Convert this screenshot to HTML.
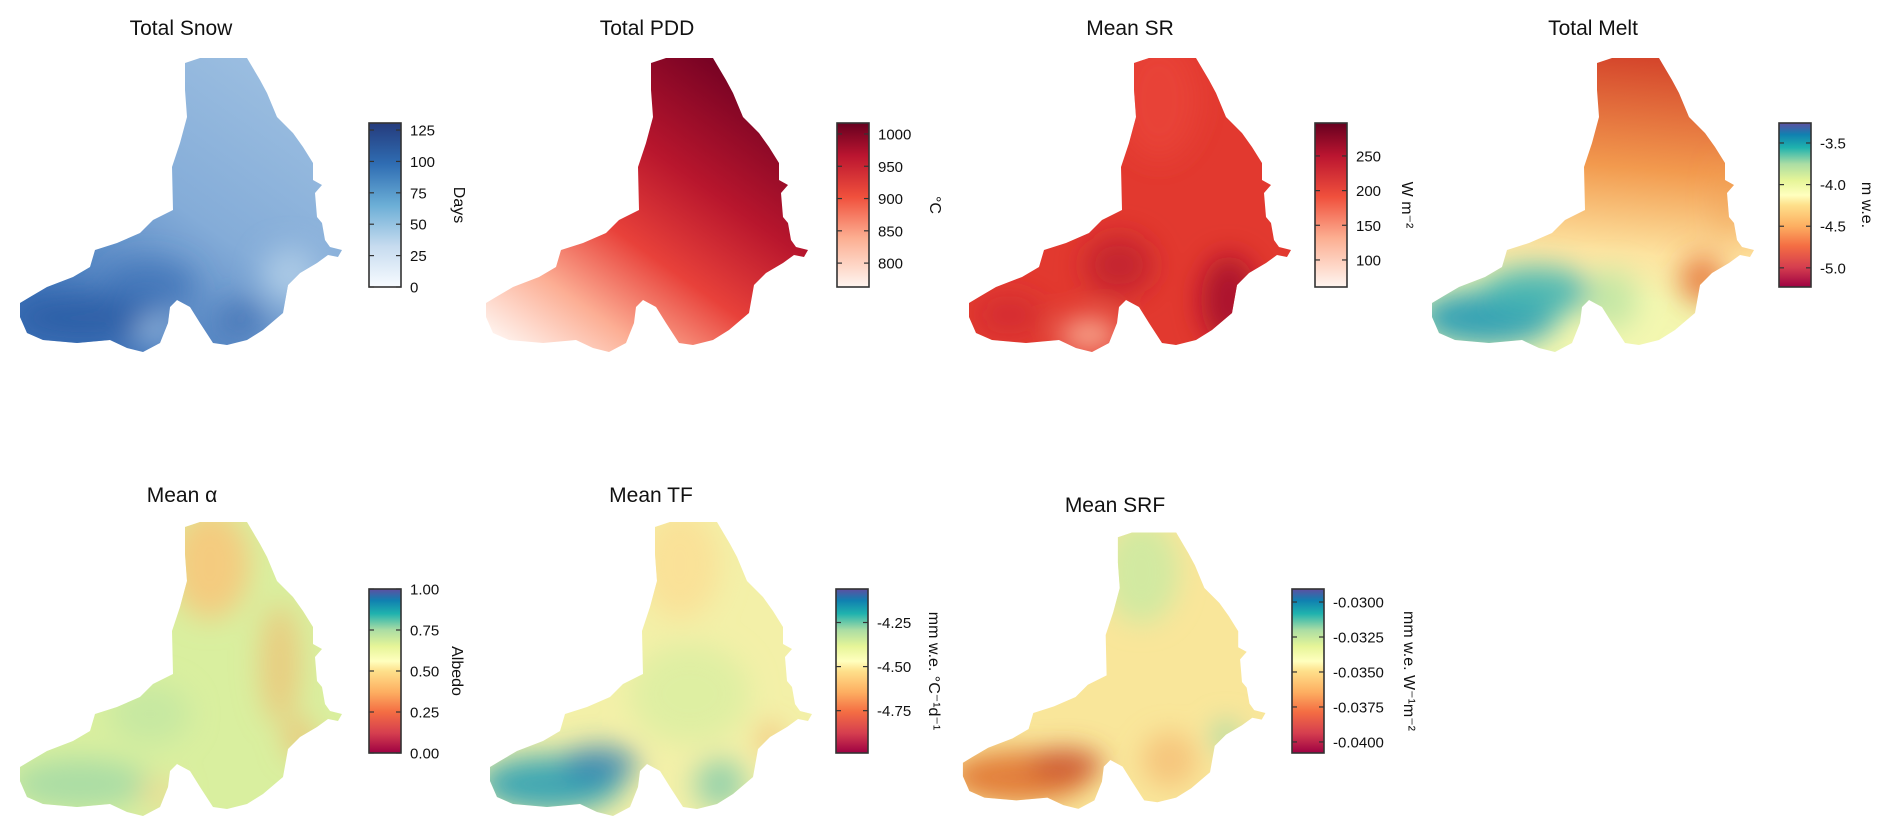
<!DOCTYPE html>
<html><head><meta charset="utf-8"><style>
html,body{margin:0;padding:0;background:#fff;width:1892px;height:837px;overflow:hidden}
svg text{font-family:"Liberation Sans",Arial,sans-serif;fill:#111}
</style></head><body>
<svg id="fig" width="1892" height="837" viewBox="0 0 1892 837" xmlns="http://www.w3.org/2000/svg">
<defs>
<filter id="blur" x="-50%" y="-50%" width="200%" height="200%"><feGaussianBlur stdDeviation="14"/></filter>
<linearGradient id="g-blues" x1="0" y1="1" x2="0" y2="0"><stop offset="0" stop-color="#f7fbff"/><stop offset=".25" stop-color="#c6dbef"/><stop offset=".5" stop-color="#6baed6"/><stop offset=".75" stop-color="#2f6db3"/><stop offset="1" stop-color="#253b7c"/></linearGradient>
<linearGradient id="g-reds" x1="0" y1="1" x2="0" y2="0"><stop offset="0" stop-color="#fff5f0"/><stop offset=".3" stop-color="#fcae91"/><stop offset=".55" stop-color="#f0503c"/><stop offset=".8" stop-color="#bb1530"/><stop offset="1" stop-color="#67001f"/></linearGradient>
<linearGradient id="g-spec" x1="0" y1="1" x2="0" y2="0"><stop offset="0" stop-color="#9e0142"/><stop offset=".12" stop-color="#d53e4f"/><stop offset=".25" stop-color="#f46d43"/><stop offset=".37" stop-color="#fdae61"/><stop offset=".5" stop-color="#fee08b"/><stop offset=".56" stop-color="#ffffbf"/><stop offset=".65" stop-color="#e6f598"/><stop offset=".75" stop-color="#abdda4"/><stop offset=".85" stop-color="#1fb2ae"/><stop offset=".93" stop-color="#1080b0"/><stop offset="1" stop-color="#5e4fa2"/></linearGradient>
<linearGradient id="f-snow" gradientUnits="userSpaceOnUse" x1="260" y1="70" x2="80" y2="330"><stop offset="0" stop-color="#9abde0"/><stop offset=".5" stop-color="#84acd8"/><stop offset="1" stop-color="#3d72b8"/></linearGradient>
<linearGradient id="f-pdd" gradientUnits="userSpaceOnUse" x1="240" y1="60" x2="40" y2="345"><stop offset="0" stop-color="#7a0324"/><stop offset=".3" stop-color="#b8162d"/><stop offset=".55" stop-color="#e8413a"/><stop offset=".78" stop-color="#fcae94"/><stop offset="1" stop-color="#fff3ee"/></linearGradient>
<linearGradient id="f-melt" gradientUnits="userSpaceOnUse" x1="230" y1="60" x2="210" y2="300"><stop offset="0" stop-color="#d5472c"/><stop offset=".45" stop-color="#f29a4e"/><stop offset=".8" stop-color="#fde3a0"/><stop offset="1" stop-color="#f3f7b0"/></linearGradient>
</defs>
<g id="root"></g>
</svg>
<script>
// ----- chart data -----
const titles = ["Total Snow","Total PDD","Mean SR","Total Melt","Mean \u03b1","Mean TF","Mean SRF"];
const units = ["Days","\u00b0C","W  m\u207b\u00b2","m w.e.","Albedo","mm w.e. \u00b0C\u207b\u00b9d\u207b\u00b9","mm w.e. W\u207b\u00b9m\u207b\u00b2"];
const domainMin = [0,763,61,-5.23,0,-4.99,-0.04079];
const domainMax = [130.6,1017,297.5,-3.26,1,-4.06,-0.02907];
const ticksSnow = [0,25,50,75,100,125];
const ticksPDD = [800,850,900,950,1000];
const ticksSR = [100,150,200,250];
const ticksMelt = [-5.0,-4.5,-4.0,-3.5];
const ticksAlb = [0,0.25,0.5,0.75,1.0];
const ticksTF = [-4.75,-4.5,-4.25];
const ticksSRF = [-0.04,-0.0375,-0.035,-0.0325,-0.03];
const tickLabelsSnow = ["0","25","50","75","100","125"];
const tickLabelsPDD = ["800","850","900","950","1000"];
const tickLabelsSR = ["100","150","200","250"];
const tickLabelsMelt = ["-5.0","-4.5","-4.0","-3.5"];
const tickLabelsAlb = ["0.00","0.25","0.50","0.75","1.00"];
const tickLabelsTF = ["-4.75","-4.50","-4.25"];
const tickLabelsSRF = ["-0.0400","-0.0375","-0.0350","-0.0325","-0.0300"];
const allTicks = [ticksSnow,ticksPDD,ticksSR,ticksMelt,ticksAlb,ticksTF,ticksSRF];
const allTickLabels = [tickLabelsSnow,tickLabelsPDD,tickLabelsSR,tickLabelsMelt,tickLabelsAlb,tickLabelsTF,tickLabelsSRF];

// ----- layout -----
const layout = [
 {tx:0,ty:0,sx:1,sy:1,titleX:181,titleY:28,barX:369,barY:123,unitX:460,grad:"g-blues",fill:"url(#f-snow)",key:"snow"},
 {tx:466,ty:0,sx:1,sy:1,titleX:647,titleY:28,barX:837,barY:123,unitX:936,grad:"g-reds",fill:"url(#f-pdd)",key:"pdd"},
 {tx:949,ty:0,sx:1,sy:1,titleX:1130,titleY:28,barX:1315,barY:123,unitX:1408,grad:"g-reds",fill:"#e2392f",key:"sr"},
 {tx:1412,ty:0,sx:1,sy:1,titleX:1593,titleY:28,barX:1779,barY:123,unitX:1868,grad:"g-spec",fill:"url(#f-melt)",key:"melt"},
 {tx:0,ty:464,sx:1,sy:1,titleX:182,titleY:495,barX:369,barY:589,unitX:458,grad:"g-spec",fill:"#d9ef9f",key:"albedo"},
 {tx:470,ty:464,sx:1,sy:1,titleX:651,titleY:495,barX:836,barY:589,unitX:935,grad:"g-spec",fill:"#f3f0a8",key:"tf"},
 {tx:944,ty:478,sx:0.94,sy:0.94,titleX:1115,titleY:505,barX:1292,barY:589,unitX:1410,grad:"g-spec",fill:"#f9e69a",key:"srf"}
];
const barW = 32, barH = 164;
const blobs = {
 snow:[[85,318,75,24,"#2c5ea6",.9],[150,285,45,25,"#3a6fb5",.7],[290,275,28,28,"#b3cfe9",.8],[155,330,20,15,"#a5c4e4",.7],[240,320,25,20,"#3567ad",.6]],
 pdd:[],
 sr:[[280,300,28,45,"#a50f2b",.9],[170,265,35,30,"#b81a2c",.7],[140,335,30,16,"#fcbba1",.9],[60,315,35,20,"#cc2830",.6],[210,100,40,60,"#ec4a3c",.6]],
 melt:[[75,318,70,28,"#2a9db4",.95],[125,292,55,25,"#43b3b2",.9],[200,300,25,30,"#b9e3a3",.8],[290,280,22,25,"#e5652f",.8],[315,200,10,40,"#f0a055",.5]],
 albedo:[[210,100,40,55,"#f7c87c",.9],[280,200,20,60,"#f4b46b",.6],[80,320,70,25,"#9fd8a6",.8],[150,250,40,30,"#bfe6a2",.7],[300,275,15,20,"#f5b066",.7],[160,330,20,15,"#fbd08c",.6]],
 tf:[[210,100,40,55,"#fbe096",.9],[80,320,72,28,"#35a3b3",.95],[130,300,38,18,"#2f7db3",.8],[220,230,60,50,"#d5eea0",.7],[300,275,10,15,"#f4a45c",.8],[250,320,25,25,"#6cc4ad",.7]],
 srf:[[210,100,40,55,"#cdeaa2",.9],[80,318,75,28,"#e27a35",.95],[130,305,40,18,"#c9502f",.8],[300,275,15,18,"#a8dca6",.9],[240,300,30,30,"#f4b06a",.6]]
};
const glacierPath = "M185,63 L200,58 L247,58 L260,80 L267,93 L277,117 L293,133 L303,147 L313,163 L313,180 L322,185 L315,193 L317,217 L322,223 L325,240 L330,247 L342,250 L338,257 L328,255 L317,263 L300,273 L288,285 L283,313 L263,330 L247,340 L227,345 L213,343 L200,323 L190,307 L177,300 L170,307 L168,323 L160,343 L143,352 L127,348 L110,340 L77,343 L43,340 L27,333 L20,317 L20,303 L30,297 L47,287 L73,277 L90,267 L95,250 L117,243 L140,233 L153,220 L173,210 L172,167 L180,143 L187,117 L185,90 Z";

const NS = "http://www.w3.org/2000/svg";
const root = document.getElementById("root");
const defs = document.querySelector("defs");
function mk(tag, attrs, parent){const e=document.createElementNS(NS,tag);for(const k in attrs)e.setAttribute(k,attrs[k]);parent.appendChild(e);return e;}
function yScale(i, v){return layout[i].barY + barH - (v - domainMin[i])/(domainMax[i]-domainMin[i])*barH;}

titles.forEach((t,i)=>{
 const L = layout[i];
 const panel = mk("g",{},root);
 
 
 const title = mk("text",{x:L.titleX,y:L.titleY+7,"text-anchor":"middle","font-size":"21"},panel);
 title.textContent = t;
 
 
 // glacier map
 const cp = mk("clipPath",{id:"clip-"+L.key},defs);
 mk("path",{d:glacierPath},cp);
 const map = mk("g",{transform:`translate(${L.tx},${L.ty}) scale(${L.sx},${L.sy})`},panel);
 
 
 const inner = mk("g",{"clip-path":`url(#clip-${L.key})`},map);
 mk("rect",{x:0,y:40,width:360,height:330,fill:L.fill},inner);
 const bg = mk("g",{filter:"url(#blur)"},inner);
 blobs[L.key].forEach(b=>{mk("ellipse",{cx:b[0],cy:b[1],rx:b[2],ry:b[3],fill:b[4],"fill-opacity":b[5]},bg);});
 // colorbar
 const cb = mk("g",{},panel);
 
 
 mk("rect",{x:L.barX,y:L.barY,width:barW,height:barH,fill:`url(#${L.grad})`,stroke:"#333","stroke-width":"1.6"},cb);
 allTicks[i].forEach((v,j)=>{
  const y = yScale(i,v);
  mk("line",{x1:L.barX,x2:L.barX+5,y1:y,y2:y,stroke:"#333","stroke-width":"1.2"},cb);
  mk("line",{x1:L.barX+barW-5,x2:L.barX+barW,y1:y,y2:y,stroke:"#333","stroke-width":"1.2"},cb);
  const tl = mk("text",{x:L.barX+barW+9,y:y+5.5,"font-size":"15"},cb);
  tl.textContent = allTickLabels[i][j];
  
  
 });
 const cy = L.barY + barH/2;
 const u = mk("text",{x:0,y:0,"font-size":"16","text-anchor":"middle",transform:`translate(${L.unitX-6},${cy}) rotate(90)`},cb);
 u.textContent = units[i];
 
 
});
</script>
</body></html>
